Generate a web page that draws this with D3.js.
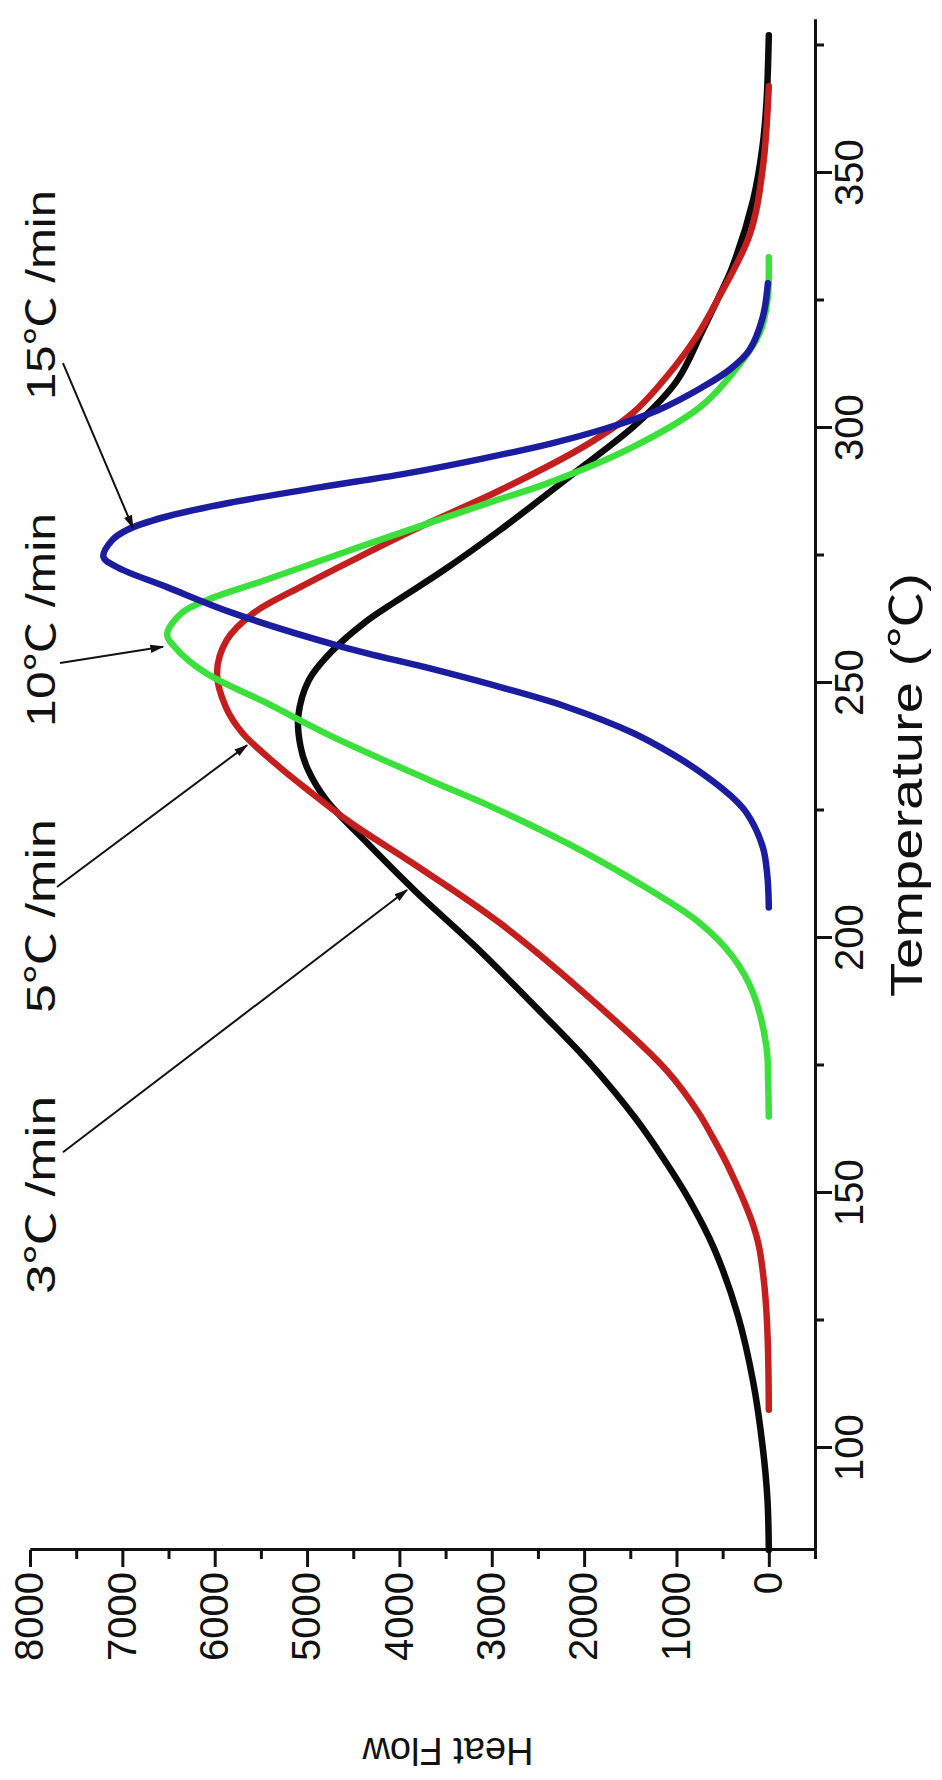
<!DOCTYPE html>
<html>
<head>
<meta charset="utf-8">
<script src="https://cdn.jsdelivr.net/npm/d3@7"></script>
<style>
  body { margin: 0; background: #fff; }
  text { font-family: "Liberation Sans", Arial, "Noto Sans CJK SC", sans-serif; fill: #111; }
</style>
</head>
<body>
<div id="chart"></div>
<script>
// heating rates, one curve each: [temperature ℃, heat flow]
const rateLabels = ['3℃ /min', '5℃ /min', '10℃ /min', '15℃ /min']
const rateColors = ['#0b0b0b', '#c41f1f', '#3ce03c', '#1c1c9e']

const black3 = [
  [80, 0], [90, 15], [100, 65], [113, 170], [126, 335], [139, 590], [148.6, 860],
  [157, 1150], [164.3, 1430], [175.5, 1940], [185.3, 2460], [198.2, 3170],
  [209.4, 3840], [219.2, 4380], [227, 4790], [233, 4990], [237.5, 5070],
  [243.5, 5095], [250.6, 4980], [255.9, 4750], [261.8, 4380], [266, 4040],
  [272, 3530], [280, 2910], [291, 2120], [301, 1420], [309.4, 990], [318.6, 730],
  [325, 560], [331.6, 395], [344.7, 170], [355, 70], [364, 25], [377, 0]
]
const red5 = [
  [107.5, 0], [115, 4], [120, 10], [126.5, 25], [133, 55], [139.4, 105],
  [144, 175], [148, 260], [152.5, 370], [157, 490], [161, 610], [165.7, 760],
  [174, 1105], [186.5, 1830], [202.9, 2910], [214.7, 3860],
  [222.5, 4520], [229, 4990], [234, 5330], [240.2, 5700], [245.3, 5880],
  [252, 5975], [258.4, 5870], [263.7, 5580], [268.8, 5075], [275.5, 4350],
  [280, 3850], [287.8, 2910], [296.3, 2010], [303, 1470], [310, 1110],
  [318, 780], [325, 560], [338, 205], [351, 65], [367, 0]
]
const green10 = [
  [165, 0], [172, 8], [178.6, 25], [189.2, 170], [196.3, 390], [202.9, 745],
  [211.4, 1470], [218.6, 2185], [226.5, 3095], [231, 3680], [239.4, 4715],
  [246, 5430], [252, 6100], [257, 6430], [259.5, 6515], [263.7, 6360],
  [266.3, 6080], [270.2, 5450], [275.5, 4620], [279, 4060], [285.9, 2940],
  [289, 2420], [296.3, 1470], [304.1, 745], [310.8, 390], [318.6, 100],
  [325, 15], [333.5, 0]
]
const blue15 = [
  [206, 0], [212, 15], [217.8, 65], [224.5, 240], [228, 420], [232, 700],
  [236, 1040], [240.2, 1470], [245.3, 2185], [249.2, 2910], [253, 3700],
  [257, 4600], [263.7, 5800], [268.8, 6515], [272.7, 7055], [274.7, 7205],
  [278, 7110], [280, 6950], [282.5, 6550], [285.3, 5850], [288.4, 4850],
  [291, 3950], [294, 3100], [297, 2350], [300, 1750], [303.5, 1200],
  [308, 720], [311.5, 420], [315.3, 210], [321.8, 65], [328.4, 10]
]
const series = [black3, red5, green10, blue15]

const tempTicks = [100, 150, 200, 250, 300, 350]
const tempMinor = [125, 175, 225, 275, 325, 375]
const heatTicks = [0, 1000, 2000, 3000, 4000, 5000, 6000, 7000, 8000]
const heatMinor = [-500, 500, 1500, 2500, 3500, 4500, 5500, 6500, 7500]

// annotation text start and arrow ends, in data units
const labelAt = [[130.2, 7730], [185.3, 7730], [241.4, 7730], [305.5, 7730]]
const labelLength = [198, 194, 214, 210]
const arrowFrom = [[158, 7643], [210, 7708], [253.9, 7675], [312.7, 7643]]
const arrowTo = [[209.4, 3918], [237.8, 5650], [257.1, 6560], [280.4, 6885]]

// the chart is drawn upright, then turned a quarter turn to the left
const W = 1780, H = 942
const x = d3.scaleLinear().domain([80, 380]).range([230, 1760])
const y = d3.scaleLinear().domain([-500, 8000]).range([815, 30])

const svg = d3.select('#chart').append('svg')
  .attr('width', H)
  .attr('height', W)
  .style('background', '#fff')

svg.append('defs').append('marker')
  .attr('id', 'arrow')
  .attr('viewBox', '0 0 10 10')
  .attr('refX', 9).attr('refY', 5)
  .attr('markerWidth', 7).attr('markerHeight', 7)
  .attr('orient', 'auto')
  .append('path')
  .attr('d', 'M0,2 L10,5 L0,8 z')
  .attr('fill', '#111')

const g = svg.append('g')
  .attr('transform', `translate(0,${W}) rotate(-90)`)

function styleAxis(sel) {
  sel.select('.domain').attr('stroke', '#111').attr('stroke-width', 3)
  sel.selectAll('.tick line').attr('stroke', '#111').attr('stroke-width', 3)
  sel.selectAll('.tick text').style('font-size', '40px')
}

g.append('g')
  .attr('transform', 'translate(0,815)')
  .call(d3.axisBottom(x).tickValues(tempMinor).tickSize(9).tickSizeOuter(0).tickFormat(''))
  .call(styleAxis)
g.append('g')
  .attr('transform', 'translate(0,815)')
  .call(d3.axisBottom(x).tickValues(tempTicks).tickSize(17).tickSizeOuter(0).tickPadding(3))
  .call(styleAxis)

g.append('g')
  .attr('transform', 'translate(230,0)')
  .call(d3.axisLeft(y).tickValues(heatMinor).tickSize(9).tickSizeOuter(0).tickFormat(''))
  .call(styleAxis)
g.append('g')
  .attr('transform', 'translate(230,0)')
  .call(d3.axisLeft(y).tickValues(heatTicks).tickSize(17).tickSizeOuter(0).tickPadding(5)
    .tickFormat(d3.format('d')))
  .call(styleAxis)

g.append('text')
  .attr('x', (x.range()[0] + x.range()[1]) / 2)
  .attr('y', 922)
  .attr('text-anchor', 'middle')
  .attr('textLength', 424)
  .attr('lengthAdjust', 'spacingAndGlyphs')
  .style('font-size', '44px')
  .text('Temperature (℃)')

g.append('text')
  .attr('transform', 'translate(42,448) rotate(-90)')
  .attr('text-anchor', 'middle')
  .style('font-size', '38px')
  .text('Heat Flow')

const line = d3.line()
  .x(d => x(d[0]))
  .y(d => y(d[1]))
  .curve(d3.curveCatmullRom.alpha(0.5))

g.selectAll('path.curve')
  .data(series)
  .enter()
  .append('path')
  .attr('class', 'curve')
  .attr('d', line)
  .attr('fill', 'none')
  .attr('stroke', (d, i) => rateColors[i])
  .attr('stroke-width', 6.5)
  .attr('stroke-linecap', 'round')
  .attr('stroke-linejoin', 'round')

g.selectAll('line.arrow')
  .data(arrowFrom)
  .enter()
  .append('line')
  .attr('class', 'arrow')
  .attr('x1', d => x(d[0]))
  .attr('y1', d => y(d[1]))
  .attr('x2', (d, i) => x(arrowTo[i][0]))
  .attr('y2', (d, i) => y(arrowTo[i][1]))
  .attr('stroke', '#111')
  .attr('stroke-width', 2)
  .attr('marker-end', 'url(#arrow)')

g.selectAll('text.rate')
  .data(rateLabels)
  .enter()
  .append('text')
  .attr('class', 'rate')
  .attr('x', (d, i) => x(labelAt[i][0]))
  .attr('y', (d, i) => y(labelAt[i][1]))
  .attr('textLength', (d, i) => labelLength[i])
  .attr('lengthAdjust', 'spacingAndGlyphs')
  .style('font-size', '40px')
  .text(d => d)
</script>
</body>
</html>
